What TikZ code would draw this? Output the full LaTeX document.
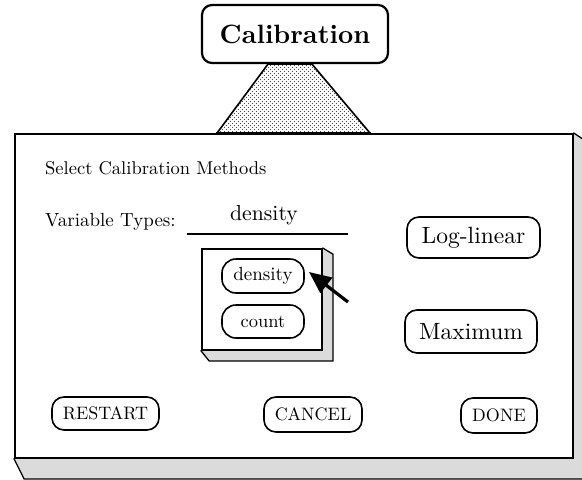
\documentclass[tikz,border=0pt]{standalone}
\usepackage{fontspec}
\setmainfont{lmroman10-regular.otf}[BoldFont=lmroman10-bold.otf]
\usetikzlibrary{patterns,arrows.meta}
\pgfdeclarepatternformonly{stipple}{\pgfqpoint{-1pt}{-1pt}}{\pgfqpoint{5pt}{5pt}}{\pgfqpoint{4pt}{4pt}}{%
  \pgfpathcircle{\pgfqpoint{0.5pt}{0.5pt}}{0.6pt}%
  \pgfpathcircle{\pgfqpoint{2.5pt}{2.5pt}}{0.6pt}%
  \pgfusepath{fill}}
\begin{document}
\begin{tikzpicture}[x=1pt,y=-1pt,
  pill/.style={draw, line width=1.6pt, rounded corners=12pt, inner sep=0pt, fill=white},
  btnfont/.style={font=\fontsize{18}{20}\selectfont},
  bigfont/.style={font=\fontsize{23.5}{25}\selectfont},
  lblfont/.style={font=\fontsize{18.5}{20}\selectfont},
  shadowfill/.style={fill=gray!28, draw, line width=1.3pt},
  panel/.style={draw, line width=1.8pt, fill=white, inner sep=0pt}]
\useasboundingbox (0,0) rectangle (582,480);

% title
\node[draw, line width=2.2pt, rounded corners=10pt, minimum width=186pt, minimum height=58pt,
      inner sep=0pt, font=\fontsize{26.5}{29}\selectfont\bfseries] (cal) at (295,34) {Calibration};

% main dialog
\node[panel, minimum width=558pt, minimum height=324pt] (dlg) at (294,296) {};
\path[shadowfill] (dlg.south west) -- ([shift={(10,20)}]dlg.south west)
   -- ([shift={(9,20)}]dlg.south east) -- ([shift={(9,6)}]dlg.north east)
   -- (dlg.north east) -- cycle;
\node[panel, minimum width=558pt, minimum height=324pt] at (dlg.center) {};

% connector trapezoid
\path[draw, line width=1.6pt, pattern=stipple, pattern color=black!70]
   ([xshift=-27pt]cal.south) -- ([xshift=17pt]cal.south)
   -- ([xshift=76pt]dlg.north) -- ([xshift=-77pt]dlg.north) -- cycle;
\draw[line width=1.8pt] ([xshift=-78pt]dlg.north) -- ([xshift=77pt]dlg.north);

% labels
\node[anchor=west, inner sep=0pt, lblfont] (sel) at (45,168) {Select Calibration Methods};
\node[anchor=west, inner sep=0pt, font=\fontsize{19}{21}\selectfont] (vt) at (45,222) {Variable Types:};
\node[inner sep=0pt, font=\fontsize{21.7}{23}\selectfont] (fld) at (264,215) {density};
\coordinate (ul1) at (187,234);
\coordinate (ul2) at (348,234);
\draw[line width=1.6pt] (ul1) -- (ul2);

% list box
\node[panel, minimum width=120pt, minimum height=101pt] (lst) at (262,299.5) {};
\path[shadowfill] (lst.south west) -- ([shift={(8,10)}]lst.south west)
   -- ([shift={(10,10)}]lst.south east) -- ([shift={(10,6)}]lst.north east)
   -- (lst.north east) -- cycle;
\node[panel, minimum width=120pt, minimum height=101pt] at (lst.center) {};
\node[pill, rounded corners=14pt, minimum width=82pt, minimum height=34pt, font=\fontsize{19}{21}\selectfont] (dens) at (263,276) {density};
\node[pill, rounded corners=14pt, minimum width=82pt, minimum height=33pt, font=\fontsize{18.5}{20}\selectfont] (cnt) at (263,321.5) {count};

% cursor arrow
\coordinate (ctail) at (348,302);
\coordinate (ctip) at (309,272);
\draw[line width=3.2pt, -{Triangle[length=22pt,width=19pt]}] (ctail) -- (ctip);

% right buttons
\node[pill, minimum width=133pt, minimum height=41pt, bigfont] (loglin) at (473.5,237.5) {Log-linear};
\node[pill, minimum width=132pt, minimum height=43pt, bigfont] (maxim) at (471,331.5) {Maximum};

% bottom buttons
\node[pill, minimum width=107pt, minimum height=33pt, btnfont] (restart) at (105.5,413.5) {RESTART};
\node[pill, minimum width=98pt, minimum height=35pt, btnfont] (cancel) at (313,414.5) {CANCEL};
\node[pill, minimum width=76pt, minimum height=35pt, btnfont] (done) at (499,415.5) {DONE};
\end{tikzpicture}
\end{document}
